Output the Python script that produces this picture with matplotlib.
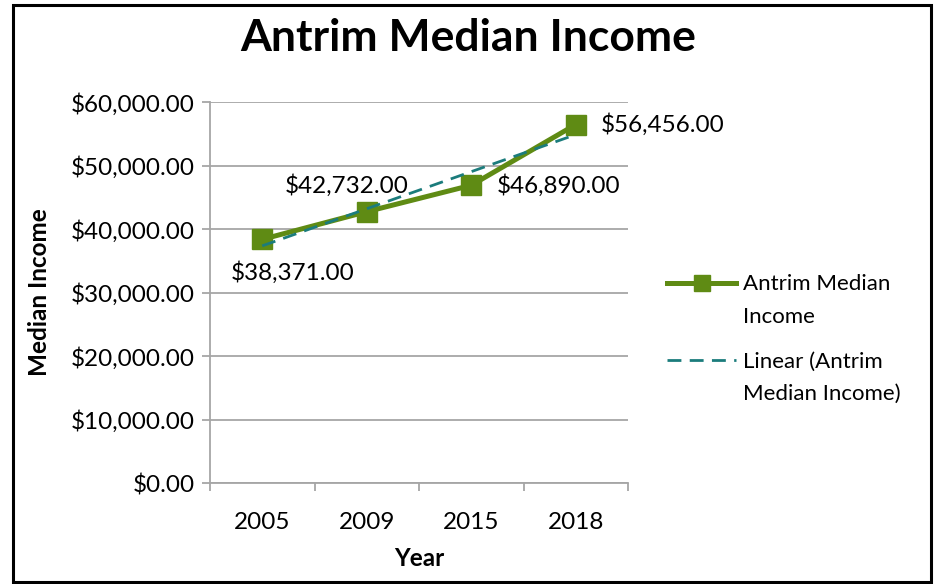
import numpy as np
import matplotlib
matplotlib.use("Agg")
from matplotlib import pyplot as plt
from matplotlib.patches import Rectangle
from matplotlib.legend_handler import HandlerLine2D
from matplotlib.ticker import StrMethodFormatter, FixedLocator, NullFormatter

years = ["2005", "2009", "2015", "2018"]
income = [38371, 42732, 46890, 56456]
labels = ["$38,371.00", "$42,732.00", "$46,890.00", "$56,456.00"]

GREEN = "#5f8b14"
TEAL = "#1b7c7c"
GRID = "#a6a6a6"

plt.rcParams["font.family"] = ["Lato", "DejaVu Sans"]


class TopLineHandler(HandlerLine2D):
    # excel puts the legend key next to the first line of a wrapped label
    def create_artists(self, *args, **kwargs):
        artists = super().create_artists(*args, **kwargs)
        for a in artists:
            a.set_ydata(np.asarray(a.get_ydata()) + 13)
        return artists


fig = plt.figure(figsize=(9.4, 5.84), dpi=100)
ax = fig.add_axes([0.2234, 0.1729, 0.4447, 0.6524])

x = np.arange(len(years))
line, = ax.plot(x, income, color=GREEN, lw=3.6, marker="s", ms=14,
                label="Antrim Median\nIncome", zorder=3)

# linear trendline like excel
k, b = np.polyfit(x, income, 1)
trend, = ax.plot(x, k * x + b, color=TEAL, lw=2, ls=(0, (5, 3)),
                 label="Linear (Antrim\nMedian Income)", zorder=4)

offsets = [(30, -33, "center"), (-20, 26, "center"), (25, 0, "left"), (25, 0, "left")]
for xi, yi, txt, (dx, dy, ha) in zip(x, income, labels, offsets):
    ax.annotate(txt, (xi, yi), xytext=(dx, dy), textcoords="offset pixels",
                ha=ha, va="center", fontsize=17.5)

ax.set_xlim(-0.5, 3.5)
ax.set_ylim(0, 60000)
ax.set_yticks(range(0, 60001, 10000))
ax.yaxis.set_major_formatter(StrMethodFormatter("${x:,.2f}"))
ax.set_xticks(x)
ax.set_xticklabels(years)
ax.xaxis.set_minor_locator(FixedLocator(np.arange(-0.5, 4, 1)))
ax.xaxis.set_minor_formatter(NullFormatter())
ax.tick_params(axis="x", which="major", length=0, labelsize=17.5, pad=21)
ax.tick_params(axis="x", which="minor", length=6, color=GRID, width=1.3)
ax.tick_params(axis="y", length=6, color=GRID, width=1.3, labelsize=17.5, pad=5)
ax.grid(axis="y", color=GRID, lw=1.3)
ax.set_axisbelow(True)
for s in ["top", "right"]:
    ax.spines[s].set_visible(False)
for s in ["left", "bottom"]:
    ax.spines[s].set_color(GRID)
    ax.spines[s].set_linewidth(1.3)

ax.set_xlabel("Year", fontsize=17.5, fontweight="bold", labelpad=10)
ax.set_ylabel("Median Income", fontsize=17.5, fontweight="bold", labelpad=14)
fig.suptitle("Antrim Median Income", fontsize=32, fontweight="bold", x=0.498, y=0.97)

leg = fig.legend(handles=[line, trend], loc="center left", bbox_to_anchor=(0.71, 0.419),
                 frameon=False, fontsize=16, handlelength=3.1, labelspacing=1.1,
                 handletextpad=0.3, markerscale=0.85, borderpad=0, borderaxespad=0,
                 handler_map={line: TopLineHandler(), trend: TopLineHandler()})
for t in leg.get_texts():
    t.set_linespacing(1.8)

fig.patches.append(Rectangle((0.0138, 0.0034), 0.9766, 0.988, transform=fig.transFigure,
                             fill=False, edgecolor="black", lw=2.2))

fig.savefig("out.png", dpi=100)
